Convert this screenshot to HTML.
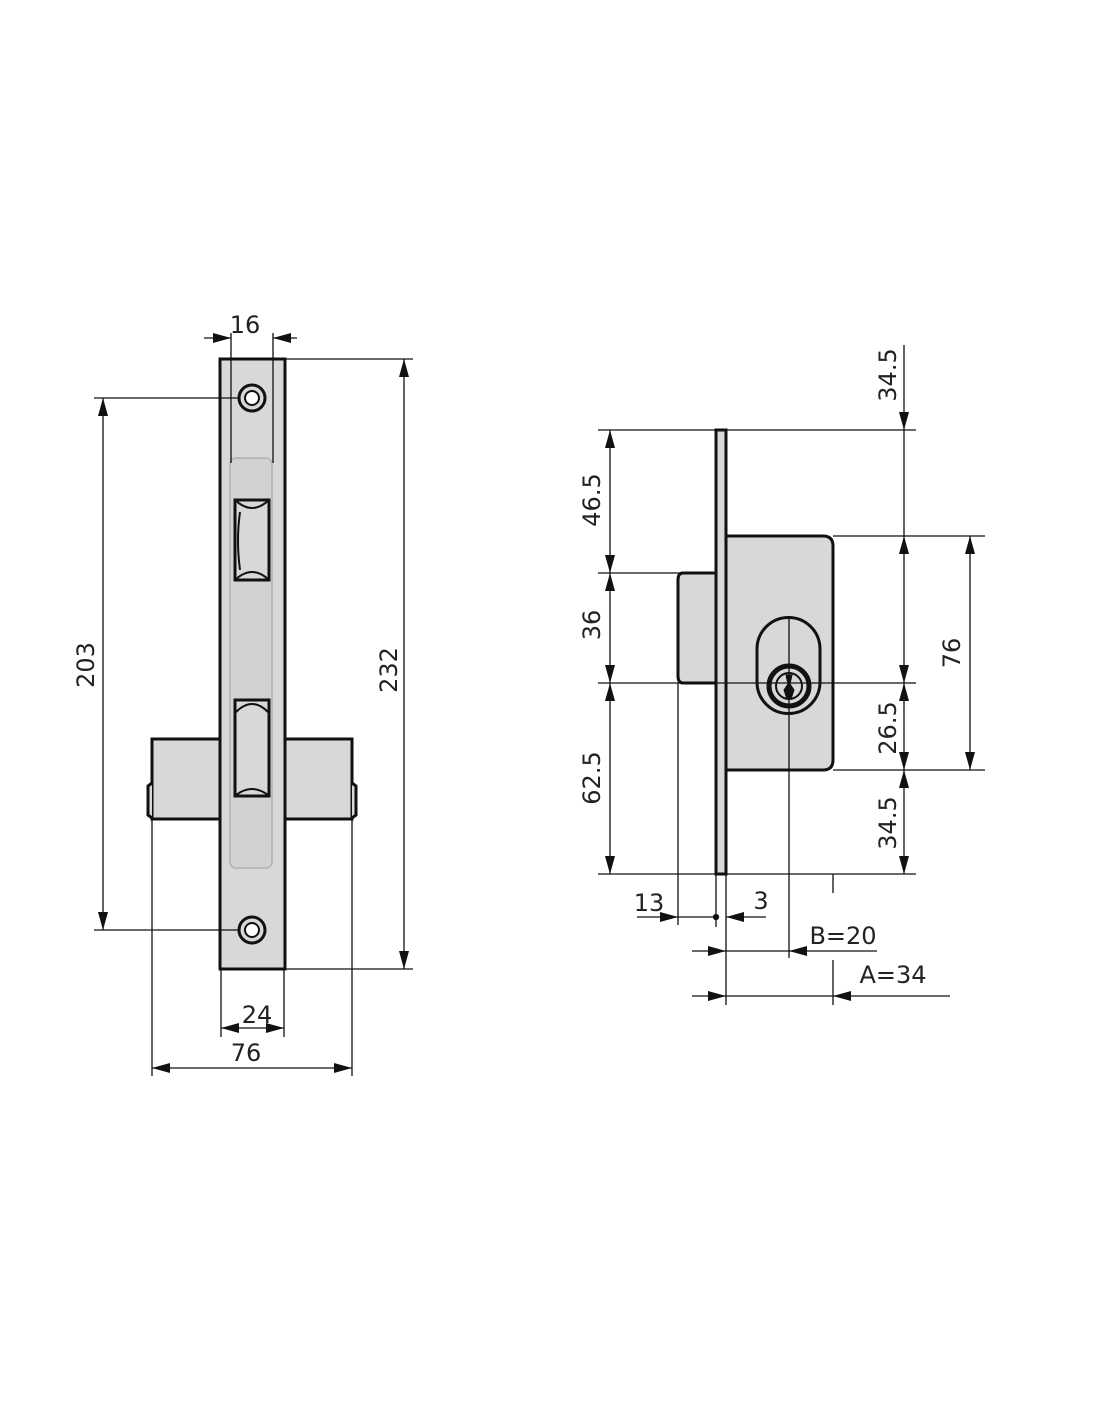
<!DOCTYPE html>
<html><head><meta charset="utf-8"><style>
html,body{margin:0;padding:0;background:#fff}
svg{display:block}
text{font-family:"DejaVu Sans","Liberation Sans",sans-serif;font-size:24px;fill:#222}
</style></head><body>
<svg width="1100" height="1422" viewBox="0 0 1100 1422" xmlns="http://www.w3.org/2000/svg">
<defs>
<marker id="a" viewBox="0 0 18 10" refX="18" refY="5" markerWidth="18" markerHeight="10" markerUnits="userSpaceOnUse" orient="auto-start-reverse"><path d="M0,0 L18,5 L0,10 z" fill="#111"/></marker>
</defs>
<g stroke="#111" fill="none" stroke-width="1.3">
<!-- LEFT VIEW -->
<rect x="152" y="739" width="200" height="80" fill="#d8d8da" stroke-width="3"/>
<path d="M152,783 L148,786 L148,815 L152,818" stroke-width="3" fill="#d8d8da"/>
<path d="M352,783 L356,786 L356,815 L352,818" stroke-width="3" fill="#d8d8da"/>
<rect x="220" y="359" width="65" height="610" fill="#d8d8da" stroke-width="3"/>
<rect x="230" y="458" width="42" height="410" rx="6" fill="#d2d2d4" stroke="#b0b0b2" stroke-width="1.5"/>
<path d="M235,500 L269,500 L269,580 L235,580 Z" fill="#d8d8da" stroke-width="3"/>
<path d="M235,500 Q252,516 269,500 M235,580 Q252,564 269,580 M240,512 Q236,540 240,570" stroke-width="2"/>
<rect x="235" y="700" width="34" height="96" fill="#d8d8da" stroke-width="3"/>
<path d="M236,712 Q252,696 268,712 M236,795 Q252,783 268,795" stroke-width="2"/>
<circle cx="252" cy="398" r="13" fill="#d8d8da" stroke-width="3"/><circle cx="252" cy="398" r="7" fill="#fff" stroke-width="2"/>
<circle cx="252" cy="930" r="13" fill="#d8d8da" stroke-width="3"/><circle cx="252" cy="930" r="7" fill="#fff" stroke-width="2"/>
<line x1="231" y1="333" x2="231" y2="463"/><line x1="273" y1="333" x2="273" y2="463"/>
<line x1="204" y1="338" x2="231" y2="338" marker-end="url(#a)"/>
<line x1="297" y1="338" x2="273" y2="338" marker-end="url(#a)"/>
<line x1="285" y1="359" x2="413" y2="359"/><line x1="285" y1="969" x2="413" y2="969"/>
<line x1="404" y1="359" x2="404" y2="969" marker-start="url(#a)" marker-end="url(#a)"/>
<line x1="94" y1="398" x2="240" y2="398"/><line x1="94" y1="930" x2="240" y2="930"/>
<line x1="103" y1="398" x2="103" y2="930" marker-start="url(#a)" marker-end="url(#a)"/>
<line x1="221" y1="969" x2="221" y2="1037"/><line x1="284" y1="969" x2="284" y2="1037"/>
<line x1="221" y1="1028" x2="284" y2="1028" marker-start="url(#a)" marker-end="url(#a)"/>
<line x1="152" y1="819" x2="152" y2="1076"/><line x1="352" y1="819" x2="352" y2="1076"/>
<line x1="152" y1="1068" x2="352" y2="1068" marker-start="url(#a)" marker-end="url(#a)"/>

<!-- RIGHT VIEW -->
<path d="M726,536 L823,536 Q833,536 833,546 L833,760 Q833,770 823,770 L726,770 Z" fill="#d8d8da" stroke-width="3"/>
<path d="M716,573 L683,573 Q678,573 678,580 L678,676 Q678,683 683,683 L716,683 Z" fill="#d8d8da" stroke-width="3"/>
<rect x="716" y="430" width="10" height="444" fill="#d8d8da" stroke-width="3"/>
<path d="M757,649 A31.5,31.5 0 0 1 820,649 L820,682 A31.5,31.5 0 0 1 757,682 Z" stroke-width="3"/>
<circle cx="789" cy="686" r="20" fill="#d8d8da" stroke-width="5"/>
<circle cx="789" cy="686" r="13" stroke-width="2"/>
<path d="M786,675 L792,675 L790,684 L794,690 L791,699 L787,699 L784,690 L788,684 Z" fill="#111" stroke-width="1"/>
<line x1="789" y1="617" x2="789" y2="958"/>
<line x1="598" y1="430" x2="916" y2="430"/>
<line x1="833" y1="536" x2="985" y2="536"/>
<line x1="598" y1="573" x2="680" y2="573"/>
<line x1="598" y1="683" x2="916" y2="683"/>
<line x1="833" y1="770" x2="985" y2="770"/>
<line x1="598" y1="874" x2="916" y2="874"/>
<line x1="610" y1="430" x2="610" y2="573" marker-start="url(#a)" marker-end="url(#a)"/>
<line x1="610" y1="573" x2="610" y2="683" marker-start="url(#a)" marker-end="url(#a)"/>
<line x1="610" y1="683" x2="610" y2="874" marker-start="url(#a)" marker-end="url(#a)"/>
<line x1="904" y1="345" x2="904" y2="430" marker-end="url(#a)"/>
<line x1="904" y1="430" x2="904" y2="536"/>
<line x1="904" y1="536" x2="904" y2="683" marker-start="url(#a)" marker-end="url(#a)"/>
<line x1="904" y1="683" x2="904" y2="770" marker-start="url(#a)" marker-end="url(#a)"/>
<line x1="904" y1="770" x2="904" y2="874" marker-start="url(#a)" marker-end="url(#a)"/>
<line x1="970" y1="536" x2="970" y2="770" marker-start="url(#a)" marker-end="url(#a)"/>
<line x1="678" y1="683" x2="678" y2="925"/>
<line x1="716" y1="874" x2="716" y2="927"/>
<line x1="726" y1="874" x2="726" y2="1005"/>
<line x1="833" y1="874" x2="833" y2="893"/>
<line x1="833" y1="960" x2="833" y2="1005"/>
<line x1="637" y1="917" x2="678" y2="917" marker-end="url(#a)"/>
<line x1="678" y1="917" x2="716" y2="917"/>
<line x1="766" y1="917" x2="726" y2="917" marker-end="url(#a)"/>
<circle cx="716" cy="917" r="2.5" fill="#111"/>
<line x1="692" y1="951" x2="726" y2="951" marker-end="url(#a)"/>
<line x1="726" y1="951" x2="789" y2="951"/>
<line x1="877" y1="951" x2="789" y2="951" marker-end="url(#a)"/>
<line x1="692" y1="996" x2="726" y2="996" marker-end="url(#a)"/>
<line x1="726" y1="996" x2="833" y2="996"/>
<line x1="950" y1="996" x2="833" y2="996" marker-end="url(#a)"/>
</g>
<g text-anchor="middle">
<text x="245" y="333">16</text>
<text x="257" y="1023">24</text>
<text x="246" y="1061">76</text>
<text transform="translate(397,670) rotate(-90)">232</text>
<text transform="translate(94,665) rotate(-90)">203</text>
<text transform="translate(600,500) rotate(-90)">46.5</text>
<text transform="translate(600,625) rotate(-90)">36</text>
<text transform="translate(600,778) rotate(-90)">62.5</text>
<text transform="translate(896,375) rotate(-90)">34.5</text>
<text transform="translate(896,728) rotate(-90)">26.5</text>
<text transform="translate(896,823) rotate(-90)">34.5</text>
<text transform="translate(960,653) rotate(-90)">76</text>
<text x="649" y="911">13</text>
<text x="761" y="909">3</text>
<text x="843" y="944">B=20</text>
<text x="893" y="983">A=34</text>
</g>
</svg>
</body></html>
